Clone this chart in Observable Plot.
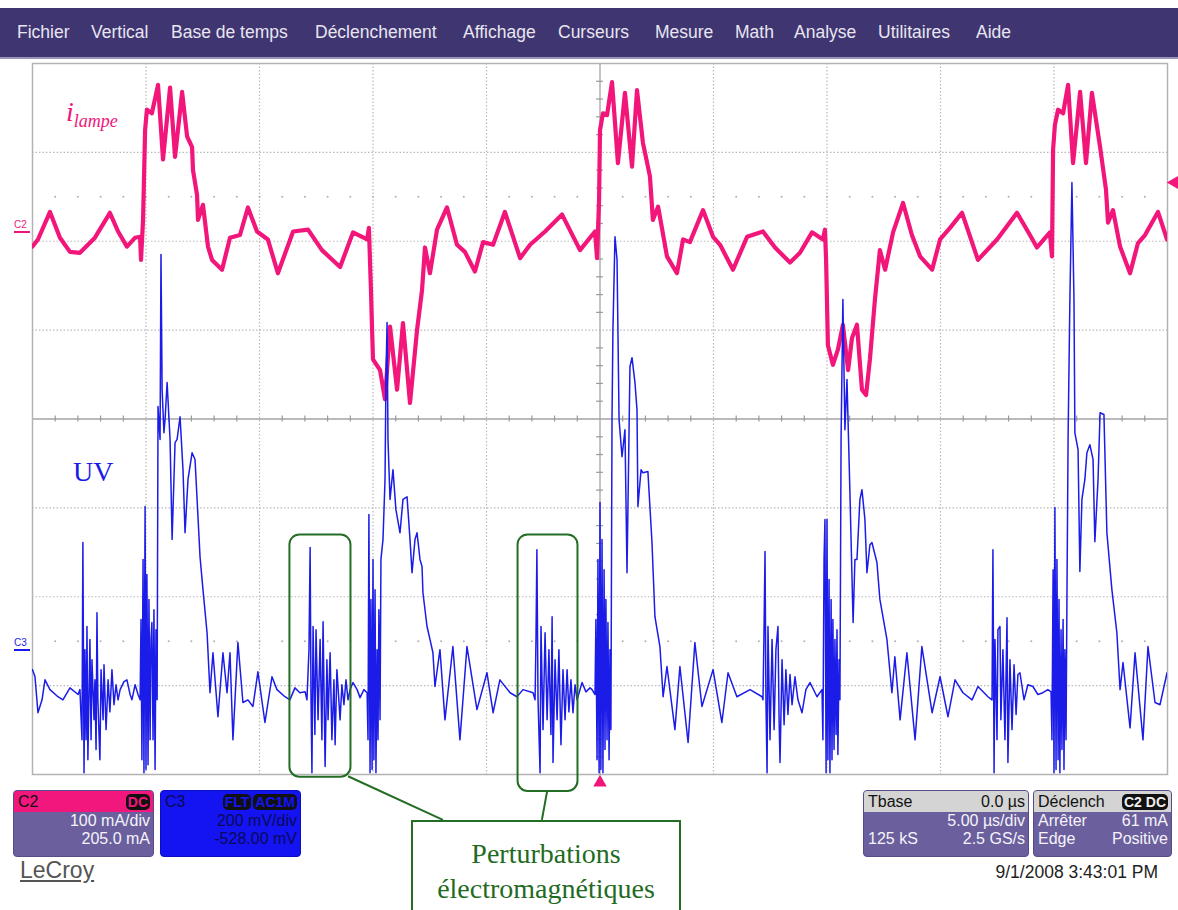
<!DOCTYPE html>
<html><head><meta charset="utf-8">
<script src="https://cdn.jsdelivr.net/npm/d3@7"></script>
<script src="https://cdn.jsdelivr.net/npm/@observablehq/plot@0.6"></script>
<style>
body{margin:0;background:#fff;}
#page{position:relative;width:1178px;height:910px;overflow:hidden;font-family:"Liberation Sans",Arial,sans-serif;background:#fff;}
#menu{position:absolute;left:0;top:8px;width:1178px;height:49px;background:#3f3571;border-bottom:2px solid #9a94bc;}
#menu span{position:absolute;top:14px;color:#e8e6f0;font-size:17.5px;}
#chart{position:absolute;left:0;top:58px;}
.panel{position:absolute;top:790px;height:67px;border-radius:4px;background:#6b5f9d;color:#f4f4fa;font-size:16px;line-height:18px;overflow:hidden;box-sizing:border-box;border:1px solid #574b8a;z-index:2}
.hd{height:21px;display:flex;justify-content:space-between;align-items:center;padding:0 3px 0 4px;}
.row{display:flex;justify-content:space-between;padding:0 3px 0 4px;height:18px}
.badge{background:#111;border-radius:5px;padding:0 2px;font-size:14px;line-height:16px;font-weight:bold;margin-left:2px}
.lbl{position:absolute;z-index:2}
</style></head>
<body><div id="page">
<div id="menu"></div>
<div id="chart"></div>

<div class="lbl" style="left:66px;top:96px;color:#f0157a;font-family:'Liberation Serif',serif;font-style:italic;"><span style="font-size:28px">i</span><span style="font-size:18px;position:relative;top:6px">lampe</span></div>
<div class="lbl" style="left:73px;top:456px;color:#1a1ae8;font-family:'Liberation Serif',serif;font-size:28px;letter-spacing:0px">UV</div>
<div class="lbl" style="left:14px;top:219px;color:#f0157a;font-size:10px;border-bottom:2px solid #f0157a;width:16px;line-height:12px">C2</div>
<div class="lbl" style="left:14px;top:637px;color:#1a1ae8;font-size:10px;border-bottom:2px solid #1a1ae8;width:16px;line-height:12px">C3</div>

<div class="panel" style="left:13px;width:141px">
  <div class="hd" style="background:#f2177c;color:#111"><span>C2</span><span class="badge" style="color:#f2177c">DC</span></div>
  <div class="row" style="justify-content:flex-end">100 mA/div</div>
  <div class="row" style="justify-content:flex-end">205.0 mA</div>
</div>
<div class="panel" style="left:160px;width:141px;background:#1414f2;border-color:#0c0cc0;color:#0a0a55">
  <div class="hd"><span>C3</span><span><span class="badge" style="color:#1414f2">FLT</span><span class="badge" style="color:#1414f2">AC1M</span></span></div>
  <div class="row" style="justify-content:flex-end">200 mV/div</div>
  <div class="row" style="justify-content:flex-end">-528.00 mV</div>
</div>
<div class="lbl" style="left:20px;top:857px;font-size:23px;color:#555;text-decoration:underline;">LeCroy</div>

<div class="panel" style="left:863px;width:166px">
  <div class="hd" style="background:#d4d4d4;color:#111"><span>Tbase</span><span>0.0 µs</span></div>
  <div class="row" style="justify-content:flex-end">5.00 µs/div</div>
  <div class="row"><span>125 kS</span><span>2.5 GS/s</span></div>
</div>
<div class="panel" style="left:1033px;width:139px">
  <div class="hd" style="background:#d4d4d4;color:#111"><span>Déclench</span><span class="badge" style="color:#eee">C2 DC</span></div>
  <div class="row"><span>Arrêter</span><span>61 mA</span></div>
  <div class="row"><span>Edge</span><span>Positive</span></div>
</div>
<div class="lbl" style="right:20px;top:862px;font-size:17.5px;color:#222;">9/1/2008 3:43:01 PM</div>

<div class="lbl" style="left:411px;top:820px;width:270px;height:100px;border:2px solid #246d24;background:#fff;box-sizing:border-box;color:#1f6b1f;font-family:'Liberation Serif',serif;font-size:28px;text-align:center;line-height:35px;padding-top:14px">Perturbations<br>électromagnétiques</div>
</div>
<script>
const menuLabels = ["Fichier","Vertical","Base de temps","Déclenchement","Affichage","Curseurs","Mesure","Math","Analyse","Utilitaires","Aide"];
const menuLeft = [17,91,171,315,463,558,655,735,794,878,976];

// Channel settings (from the scope panels)
const c2Scale = 100, c2Offset = 205;   // mA/div, mA
const c3Scale = 200, c3Offset = -528;  // mV/div, mV
const triggerLevel = 61;               // mA
const timeDiv = 5;                     // µs/div

// C2 : lamp current [time µs, current mA]
const lampCurrent = [
[-25.0,-11],[-24.76,-3],[-24.23,28],[-23.79,-1],[-23.35,-17],[-22.91,-18],[-22.25,-1],[-21.59,27],[-21.23,6],[-20.84,-11],[-20.48,-1],[-20.26,0],[-20.22,-26],[-20.13,19],[-20.04,120],[-19.96,143],[-19.74,139],[-19.47,171],[-19.25,87],[-18.94,168],[-18.72,90],[-18.41,163],[-18.19,113],[-17.97,101],[-17.93,75],[-17.75,47],[-17.71,19],[-17.49,36],[-17.27,-11],[-17.09,-26],[-16.65,-37],[-16.30,-1],[-15.86,2],[-15.51,33],[-15.11,6],[-14.63,-3],[-14.19,-41],[-13.52,6],[-12.86,8],[-12.25,-15],[-11.45,-34],[-10.88,5],[-10.26,-3],[-10.18,10],[-10.09,-60],[-10.04,-105],[-10.00,-138],[-9.69,-150],[-9.47,-183],[-9.25,-101],[-8.94,-172],[-8.68,-97],[-8.37,-187],[-8.06,-105],[-7.84,-60],[-7.71,-12],[-7.49,-41],[-7.18,8],[-6.74,33],[-6.30,-9],[-5.95,-17],[-5.51,-39],[-5.15,-6],[-4.71,-9],[-4.19,28],[-3.52,-24],[-3.08,-9],[-2.42,6],[-1.67,25],[-0.88,-15],[-0.22,6],[-0.13,-24],[-0.04,42],[0,120],[0.13,139],[0.31,137],[0.53,174],[0.79,83],[1.10,162],[1.41,79],[1.63,165],[1.89,106],[2.20,68],[2.33,19],[2.56,34],[2.95,-22],[3.39,-41],[3.66,-3],[3.96,-6],[4.54,30],[4.98,0],[5.29,-9],[5.86,-37],[6.48,0],[7.18,6],[7.71,-12],[8.37,-29],[8.81,-18],[9.34,5],[9.82,-3],[9.91,8],[9.96,-26],[10.04,-122],[10.26,-144],[10.48,-127],[10.70,-99],[10.93,-150],[11.10,-114],[11.32,-99],[11.54,-172],[11.72,-178],[11.89,-138],[12.11,-71],[12.33,-15],[12.56,-37],[12.91,5],[13.35,38],[13.74,2],[14.10,-22],[14.63,-37],[14.98,-3],[15.42,10],[15.95,27],[16.65,-26],[17.49,-3],[18.37,27],[18.94,2],[19.25,-12],[19.82,5],[19.91,-22],[19.96,98],[20.04,126],[20.18,143],[20.40,139],[20.62,171],[20.84,83],[21.15,163],[21.41,83],[21.67,162],[22.03,101],[22.29,53],[22.38,16],[22.60,30],[22.91,-11],[23.35,-41],[23.70,-7],[24.01,2],[24.58,28],[24.98,-3]
];

// C3 : UV sensor [time µs, voltage mV]
const uvSignal = [
[-25.0,-36],[-24.89,-52],[-24.76,-133],[-24.58,-104],[-24.45,-59],[-24.23,-81],[-23.88,-97],[-23.66,-104],[-23.35,-77],[-22.99,-92],[-22.91,-81],
[-22.82,-194],[-22.78,250],[-22.73,-268],[-22.69,9],[-22.64,-194],[-22.60,61],[-22.56,-239],[-22.47,32],[-22.42,-194],[-22.38,-14],[-22.29,-149],[-22.25,-59],[-22.20,-216],[-22.16,92],[-22.12,-104],[-22.03,-239],[-21.98,-36],[-21.89,-149],[-21.85,-25],[-21.76,-171],[-21.67,-59],[-21.59,-131],[-21.50,-36],[-21.41,-115],[-21.32,-70],[-21.23,-104],
[-21.14,-81],[-20.97,-63],[-20.84,-59],[-20.70,-92],[-20.62,-104],[-20.48,-70],[-20.35,-92],[-20.26,-104],
[-20.22,77],[-20.18,-239],[-20.13,212],[-20.09,-268],[-20.04,331],[-20.00,-261],[-19.96,178],[-19.91,-250],[-19.87,122],[-19.82,-194],[-19.78,32],[-19.74,70],[-19.69,-194],[-19.65,99],[-19.60,-261],[-19.56,54],[-19.51,-104],
[-19.47,556],[-19.38,482],[-19.34,898],[-19.29,594],[-19.21,497],[-19.16,527],[-19.07,610],[-18.94,482],[-18.85,257],[-18.72,475],[-18.63,482],[-18.50,533],[-18.37,414],[-18.28,272],[-18.15,392],[-17.97,452],[-17.84,437],[-17.62,218],[-17.49,144],[-17.31,47],[-17.18,-88],[-17.05,2],[-16.83,-142],[-16.61,2],[-16.43,-88],[-16.30,2],[-16.17,-194],[-15.95,25],[-15.73,-110],[-15.51,-104],[-15.29,-119],[-15.07,-41],[-14.76,-155],[-14.45,-52],[-14.23,-81],[-13.88,-97],[-13.66,-104],[-13.44,-77],[-13.22,-88],[-12.99,-86],
[-12.91,-104],[-12.82,9],[-12.77,239],[-12.73,-104],[-12.69,-268],[-12.64,61],[-12.56,-182],[-12.51,54],[-12.42,-149],[-12.33,32],[-12.25,-194],[-12.20,72],[-12.11,-254],[-12.03,-14],[-11.98,-149],[-11.89,2],[-11.81,-194],[-11.72,-59],[-11.67,-205],[-11.59,-36],[-11.45,-149],[-11.37,-70],[-11.28,-115],[-11.19,-59],[-11.10,-104],[-11.01,-81],
[-10.88,-65],[-10.70,-81],[-10.57,-99],[-10.40,-81],[-10.26,-88],
[-10.22,-194],[-10.18,313],[-10.13,-268],[-10.09,122],[-10.04,-261],[-10.00,212],[-9.96,-239],[-9.91,144],[-9.87,-268],[-9.82,9],[-9.78,-194],[-9.74,99],[-9.69,-149],[-9.65,212],[-9.56,257],[-9.47,392],[-9.43,617],[-9.38,745],[-9.34,482],[-9.25,347],[-9.12,414],[-8.99,324],
[-8.81,272],[-8.68,347],[-8.50,353],[-8.37,257],[-8.28,182],[-8.15,257],[-8.06,272],[-7.93,212],[-7.84,196],[-7.80,137],[-7.62,61],[-7.49,32],[-7.36,2],[-7.27,-74],[-7.05,9],[-6.83,-149],[-6.48,16],[-6.17,-194],[-5.86,16],[-5.42,-126],[-4.98,-43],[-4.71,-133],[-4.41,-59],[-3.96,-88],[-3.66,-97],[-3.39,-81],[-2.95,-88],
[-2.86,-104],[-2.82,32],[-2.78,234],[-2.73,-104],[-2.64,-268],[-2.60,61],[-2.51,-171],[-2.42,47],[-2.33,-149],[-2.25,9],[-2.16,-182],[-2.11,83],[-2.07,-245],[-1.98,-14],[-1.89,-149],[-1.81,9],[-1.72,-205],[-1.63,-36],[-1.54,-149],[-1.45,-36],[-1.37,-131],[-1.28,-59],[-1.19,-133],[-1.10,-70],[-1.01,-104],
[-0.79,-65],[-0.62,-86],[-0.44,-77],[-0.35,-81],[-0.22,-92],
[-0.18,77],[-0.13,-239],[-0.09,212],[-0.04,-268],[0,340],[0.04,-261],[0.09,257],[0.13,-268],[0.18,189],[0.22,-216],[0.26,122],[0.31,-194],[0.35,70],[0.40,-239],[0.44,9],[0.48,-171],[0.53,533],
[0.57,729],[0.66,938],[0.75,887],[0.84,527],[0.97,443],[1.10,504],[1.19,182],[1.32,646],[1.41,666],[1.54,610],[1.63,549],[1.67,331],[1.81,414],[1.89,407],[2.11,410],[2.29,250],[2.42,83],[2.64,16],[2.78,-97],[2.95,-29],[3.30,-171],[3.52,-29],[3.88,-200],[4.18,25],[4.49,-119],[4.98,-36],[5.37,-155],[5.64,-43],[6.03,-97],[6.61,-81],[7.14,-97],
[7.18,-104],[7.22,32],[7.27,230],[7.31,-104],[7.36,-268],[7.40,61],[7.49,-194],[7.58,32],[7.67,-171],[7.75,9],[7.84,61],[7.89,-149],[7.93,-245],[8.02,-14],[8.11,-160],[8.19,-36],[8.28,-137],[8.37,-47],[8.46,-115],[8.59,-52],[8.72,-104],[8.90,-133],[9.07,-81],[9.25,-65],[9.56,-97],[9.78,-81],
[9.82,-194],[9.87,212],[9.91,302],[9.96,-268],[10.00,302],[10.04,-239],[10.09,167],[10.13,-268],[10.18,122],[10.22,-239],[10.26,77],[10.31,-216],[10.35,32],[10.40,-182],[10.44,54],[10.48,-227],[10.53,-14],[10.57,-104],
[10.62,482],[10.70,797],[10.79,504],[10.88,617],[11.01,362],[11.15,70],[11.23,212],[11.32,212],[11.45,347],[11.54,369],[11.67,302],[11.76,182],[11.89,245],[11.98,250],[12.20,205],[12.33,122],[12.64,32],[12.86,-88],[12.99,-7],[13.22,-149],[13.52,2],[13.88,-194],[14.18,16],[14.63,-133],[14.98,-52],[15.33,-142],[15.64,-59],[15.99,-88],[16.39,-104],[16.65,-74],[17.09,-97],
[17.27,-104],[17.31,234],[17.36,-268],[17.40,32],[17.49,-194],[17.53,54],[17.62,61],[17.66,-149],[17.75,9],[17.84,-194],[17.93,81],[17.97,-245],[18.06,-14],[18.15,-171],[18.24,-25],[18.33,-137],[18.41,-47],[18.50,-43],[18.68,-104],[18.85,-70],[19.07,-74],[19.29,-92],[19.51,-88],[19.73,-81],[19.87,-86],
[19.91,-194],[19.96,189],[20.00,-268],[20.04,329],[20.09,-261],[20.13,212],[20.18,-239],[20.22,122],[20.26,-268],[20.31,54],[20.35,-216],[20.40,77],[20.44,-261],[20.48,9],[20.53,-194],[20.57,122],
[20.62,482],[20.70,797],[20.79,1060],[20.88,797],[20.92,497],[21.06,459],[21.14,185],[21.23,347],[21.36,392],[21.45,452],[21.58,470],[21.72,437],[21.80,252],[21.94,392],[22.03,542],[22.20,538],[22.33,272],[22.55,144],[22.77,47],[22.91,-81],[23.04,-20],[23.35,-167],[23.57,2],[23.92,-194],[24.14,16],[24.45,-110],[24.67,-115],[24.98,-43]
];

// Annotations: framed EM disturbance bursts [t1, t2 in µs ; u1, u2 in mV]
const emBoxes = [
  {t1:-13.66, t2:-10.97, u1:267, u2:-278},
  {t1:-3.61, t2:-0.97, u1:267, u2:-310}
];
const emLinks = [
  {ta:-11.1, ua:-276, tb:-6.92, ub:-374},
  {ta:-2.33, ua:-310, tb:-2.56, ub:-374}
];

// menu
const menu = document.getElementById("menu");
menuLabels.forEach((m,i)=>{const s=document.createElement("span");s.textContent=m;s.style.left=menuLeft[i]+"px";menu.appendChild(s);});

const pinkDiv = d => (d[1] + c2Offset) / c2Scale;
const blueDiv = d => (d[1] + c3Offset) / c3Scale;
const uDiv = u => (u + c3Offset) / c3Scale;

const grid = "#b9b9b9";
const majorT = d3.range(-20, 21, timeDiv).filter(t => t !== 0);
const majorY = [-3,-2,-1,1,2,3];
const minorT = d3.range(-25, 25.01, 1).filter(t => t % 5 !== 0);
const minorY = d3.range(-4, 4.01, 0.2).filter(v => Math.abs(v - Math.round(v)) > 0.01);

const chart = Plot.plot({
  width: 1178, height: 852,
  marginTop: 5, marginBottom: 136, marginLeft: 32, marginRight: 11,
  x: {domain: [-25, 25], axis: null},
  y: {domain: [-4, 4], axis: null},
  style: {background: "transparent", overflow: "visible"},
  marks: [
    Plot.ruleX(majorT, {stroke: grid, strokeDasharray: "1.5,2", strokeWidth: 1.2}),
    Plot.ruleY(majorY, {stroke: grid, strokeDasharray: "1.5,2", strokeWidth: 1.2}),
    Plot.dot(minorT.concat([-20,-15,-10,-5,5,10,15,20]).flatMap(t => [[t,2.5],[t,-2.5]]), {x: d=>d[0], y: d=>d[1], r: 1, fill: "#b0b0b0", stroke: null}),
    Plot.ruleX([0], {stroke: "#a3a3a3", strokeWidth: 1.3}),
    Plot.ruleY([0], {stroke: "#a3a3a3", strokeWidth: 1.3}),
    Plot.ruleX(minorT, {x: d=>d, y1: -0.035, y2: 0.035, stroke: "#999", strokeWidth: 1.2}),
    Plot.ruleY(minorY, {y: d=>d, x1: -0.15, x2: 0.15, stroke: "#999", strokeWidth: 1.2}),
    Plot.frame({stroke: "#b3b3b3", strokeWidth: 1.5}),
    Plot.line(lampCurrent, {x: d=>d[0], y: pinkDiv, stroke: "#f2157a", strokeWidth: 4.2, strokeLinejoin: "round", clip: true}),
    Plot.line(uvSignal, {x: d=>d[0], y: blueDiv, stroke: "#1c1ce8", strokeWidth: 1.5, clip: true}),
    Plot.rect(emBoxes, {x1: "t1", x2: "t2", y1: d=>uDiv(d.u1), y2: d=>uDiv(d.u2), fill: "none", stroke: "#246d24", strokeWidth: 2, rx: 10}),
    Plot.link(emLinks, {x1: "ta", y1: d=>uDiv(d.ua), x2: "tb", y2: d=>uDiv(d.ub), stroke: "#246d24", strokeWidth: 2}),
    Plot.dot([[0,-4]], {x: d=>d[0], y: d=>d[1], dy: 8, symbol: "triangle", r: 5, fill: "#f2157a", stroke: null}),
    Plot.dot([[25, (triggerLevel + c2Offset)/c2Scale]], {x: d=>d[0], y: d=>d[1], dx: 7, symbol: "triangle", rotate: -90, r: 5, fill: "#f2157a", stroke: null})
  ]
});
document.getElementById("chart").appendChild(chart);
</script>
</body></html>
